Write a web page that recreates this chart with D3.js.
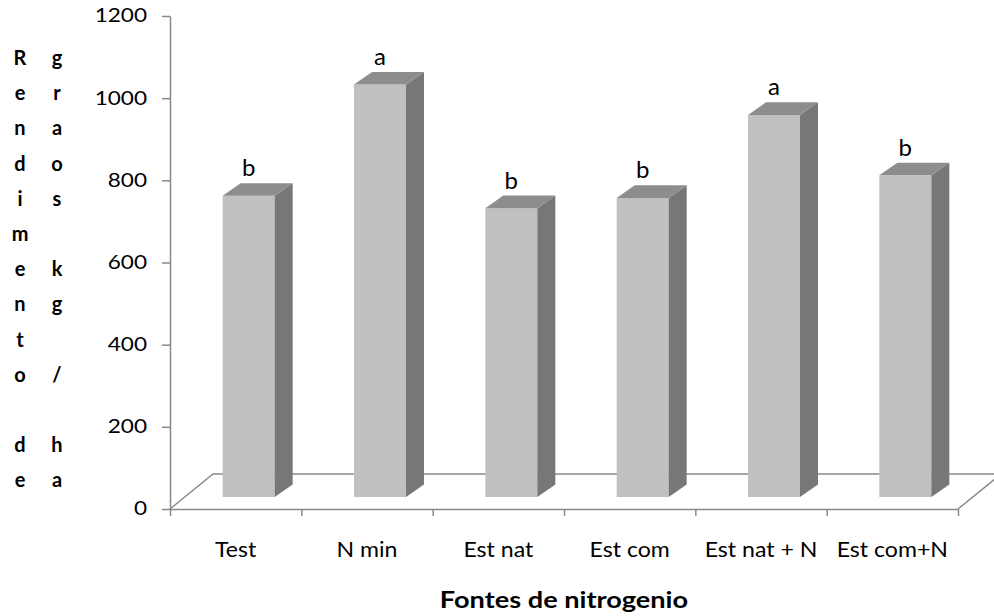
<!DOCTYPE html>
<html>
<head>
<meta charset="utf-8">
<script src="https://cdn.jsdelivr.net/npm/d3@7"></script>
<style>
  html, body { margin: 0; padding: 0; background: #ffffff; }
  svg { display: block; font-family: Lato, "Open Sans", sans-serif; }
</style>
</head>
<body>
<svg id="chart" width="994" height="616"></svg>
<script>
// Grain yield by nitrogen source
const categories = ["Test", "N min", "Est nat", "Est com", "Est nat + N", "Est com+N"];
const yields = [733, 1004, 703, 728, 930, 783];
const groups = ["b", "a", "b", "b", "a", "b"];
const yTicks = [0, 200, 400, 600, 800, 1000, 1200];
const yTitleLeft = ["R", "e", "n", "d", "i", "m", "e", "n", "t", "o", "", "d", "e"];
const yTitleRight = ["g", "r", "a", "o", "s", "", "k", "g", "", "/", "", "h", "a"];
const xTitle = "Fontes de nitrogenio";

const svg = d3.select("#chart");

const x = d3.scaleBand().domain(categories).range([170, 958]).padding(0);
const xEdge = d3.scaleLinear().domain([0, categories.length]).range([170, 958]);
const y = d3.scaleLinear().domain([0, 1200]).range([509, 16]);

// oblique projection offsets
const floorDepth = { dx: 43, dy: -35 };
const barFront = { dx: 13, dy: -12 };
const barDepth = { dx: 18, dy: -12.6 };
const barWidth = 52;

const axisColor = "#898989";
const frontColor = "#c0c0c0";
const sideColor = "#777777";
const topColor = "#8d8d8d";

// widen glyphs horizontally to the face used by the chart
function stretch(sel, k) {
  sel.each(function () {
    const w = this.getComputedTextLength();
    d3.select(this).attr("textLength", w * k).attr("lengthAdjust", "spacingAndGlyphs");
  });
}

// floor outline
const x0 = xEdge(0), x1 = xEdge(categories.length), yb = y(0);
const floor = svg.append("g").attr("stroke", axisColor).attr("stroke-width", 1.5).attr("fill", "none");
floor.append("path").attr("d",
  `M${x0},${yb}L${x0 + floorDepth.dx},${yb + floorDepth.dy}L${x1 + floorDepth.dx},${yb + floorDepth.dy}M${x1},${yb}L${x1 + floorDepth.dx},${yb + floorDepth.dy}`);

// 3D columns
const bars = svg.append("g").selectAll("g.bar")
  .data(categories.map((c, i) => ({ c, v: yields[i], g: groups[i] })))
  .join("g").attr("class", "bar");

const geo = d => {
  const cx = x(d.c) + x.bandwidth() / 2 + barFront.dx;
  const l = cx - barWidth / 2, r = cx + barWidth / 2;
  const t = y(d.v) + barFront.dy, b = y(0) + barFront.dy;
  return { cx, l, r, t, b };
};

bars.append("rect")
  .attr("x", d => geo(d).l).attr("y", d => geo(d).t)
  .attr("width", barWidth).attr("height", d => geo(d).b - geo(d).t)
  .attr("fill", frontColor);

bars.append("path")
  .attr("d", d => {
    const g = geo(d);
    return `M${g.r},${g.t}L${g.r + barDepth.dx},${g.t + barDepth.dy}L${g.r + barDepth.dx},${g.b + barDepth.dy}L${g.r},${g.b}Z`;
  })
  .attr("fill", sideColor);

bars.append("path")
  .attr("d", d => {
    const g = geo(d);
    return `M${g.l},${g.t}L${g.l + barDepth.dx},${g.t + barDepth.dy}L${g.r + barDepth.dx},${g.t + barDepth.dy}L${g.r},${g.t}Z`;
  })
  .attr("fill", topColor);

bars.append("text")
  .attr("x", d => geo(d).cx)
  .attr("y", d => geo(d).t - 19.5)
  .attr("text-anchor", "middle")
  .attr("font-size", 24)
  .attr("fill", "#000")
  .text(d => d.g);

// value axis
const yAxis = svg.append("g").attr("transform", `translate(${x0},0)`)
  .call(d3.axisLeft(y).tickValues(yTicks).tickSize(8).tickSizeOuter(0).tickPadding(15).tickFormat(d3.format("d")));
yAxis.select(".domain").attr("stroke", axisColor).attr("stroke-width", 1.5);
yAxis.selectAll(".tick line").attr("stroke", axisColor).attr("stroke-width", 1.5);
yAxis.selectAll(".tick text").attr("font-size", 18.5).attr("font-family", "Lato, sans-serif").attr("fill", "#000");
stretch(yAxis.selectAll(".tick text"), 1.22);

// category axis: tick marks on band edges
const xTicksG = svg.append("g").attr("transform", `translate(0,${yb})`)
  .call(d3.axisBottom(xEdge).tickValues(d3.range(categories.length + 1)).tickSize(7).tickSizeOuter(0).tickFormat(""));
xTicksG.select(".domain").attr("stroke", axisColor).attr("stroke-width", 1.5);
xTicksG.selectAll(".tick line").attr("stroke", axisColor).attr("stroke-width", 1.5);

// category labels at band centres
const xLabels = svg.append("g").attr("transform", `translate(0,${yb})`)
  .call(d3.axisBottom(x).tickSize(0).tickPadding(33));
xLabels.select(".domain").remove();
xLabels.selectAll(".tick text").attr("font-size", 21).attr("font-family", "Lato, sans-serif").attr("fill", "#000");
stretch(xLabels.selectAll(".tick text"), 1.1);

// axis titles
const xt = svg.append("text")
  .attr("x", (x0 + x1) / 2).attr("y", 608)
  .attr("text-anchor", "middle")
  .attr("font-size", 23).attr("font-weight", "bold")
  .attr("fill", "#000")
  .text(xTitle);
stretch(xt, 1.18);

const rowY = i => 65 + i * 35.2;
const yTitle = svg.append("g").attr("font-size", 20).attr("font-weight", "bold").attr("fill", "#000").attr("text-anchor", "middle");
yTitle.selectAll("text.l").data(yTitleLeft).join("text").attr("class", "l")
  .attr("x", 20).attr("y", (d, i) => rowY(i)).text(d => d);
yTitle.selectAll("text.r").data(yTitleRight).join("text").attr("class", "r")
  .attr("x", 57).attr("y", (d, i) => rowY(i)).text(d => d);
</script>
</body>
</html>
